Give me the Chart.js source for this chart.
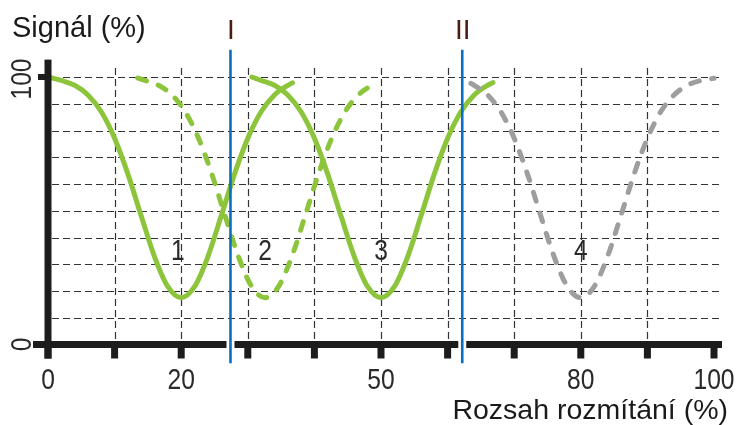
<!DOCTYPE html>
<html><head><meta charset="utf-8">
<script src="https://cdn.jsdelivr.net/npm/chart.js@4"></script>
<style>html,body{margin:0;padding:0;background:#fff}#wrap{width:736px;height:425px;position:relative}</style>
</head><body><div id="wrap"><canvas id="c" width="736" height="425"></canvas></div>
<script>
// ---- data ----
const curve1X = [0, 2, 4, 6, 8, 10, 12, 14, 16, 18, 20, 22, 24, 26, 28, 30, 32, 34, 36, 36.7];
const curve1Y = [100, 98.7, 96.9, 93.3, 87.0, 77.1, 63.7, 48.0, 32.8, 21.6, 17.5, 21.6, 32.8, 48.0, 63.7, 77.1, 87.0, 93.3, 96.9, 97.8];

const curve2X = [13.5, 14.6, 16.6, 18.6, 20.6, 22.6, 24.6, 26.6, 28.6, 30.6, 32.6, 34.6, 36.6, 38.6, 40.6, 42.6, 44.6, 46.6, 48.6, 49.1];
const curve2Y = [99.6, 98.7, 96.9, 93.3, 87.0, 77.1, 63.7, 48.0, 32.8, 21.6, 17.5, 21.6, 32.8, 48.0, 63.7, 77.1, 87.0, 93.3, 96.9, 97.5];

const curve3X = [30.6, 32, 34, 36, 38, 40, 42, 44, 46, 48, 50, 52, 54, 56, 58, 60, 62, 64, 66, 66.8];
const curve3Y = [100, 98.7, 96.9, 93.3, 87.0, 77.1, 63.7, 48.0, 32.8, 21.6, 17.5, 21.6, 32.8, 48.0, 63.7, 77.1, 87.0, 93.3, 96.9, 97.9];

const curve4X = [63.5, 64, 66, 68, 70, 72, 74, 76, 78, 80, 82, 84, 86, 88, 90, 92, 94, 96, 98, 100, 101.2];
const curve4Y = [97.6, 96.9, 93.3, 87.0, 77.1, 63.7, 48.0, 32.8, 21.6, 17.5, 21.6, 32.8, 48.0, 63.7, 77.1, 87.0, 93.3, 96.9, 98.7, 99.5, 99.8];

const xTickValues = [0, 10, 20, 30, 40, 50, 60, 70, 80, 90, 100];
const xLabelValues = [0, 20, 50, 80, 100];
const xLabelTexts = ['0', '20', '50', '80', '100'];
const yLabelValues = [0, 100];
const yLabelTexts = ['0', '100'];
const gridXValues = [10, 20, 30, 40, 50, 60, 70, 80, 90];
const gridYValues = [10, 20, 30, 40, 50, 60, 70, 80, 90, 100];
const markerValues = [27.4, 62.2];
const markerTexts = ['I', 'II'];
const curveNameTexts = ['1', '2', '3', '4'];
const curveNameX = [19.5, 32.6, 50, 80];
const curveNameY = [35.7, 35.7, 35.7, 35.7];
const yTitle = 'Signál (%)';
const xTitle = 'Rozsah rozmítání (%)';

const zip = (xs, ys) => xs.map((v, i) => ({x: v, y: ys[i]}));

const GREEN = '#8cc43c';
const GRAY = '#9e9e9e';
const BLUE = '#0a6fc2';
const AXIS = '#1c1c1c';
const SANS = '"Liberation Sans", Arial, Helvetica, sans-serif';
const NARROW_SCALE = 0.82;

function narrowText(ctx, text, px, py, rot) {
  ctx.save();
  ctx.translate(px, py);
  if (rot) ctx.rotate(rot);
  ctx.scale(NARROW_SCALE, 1);
  ctx.fillText(text, 0, 0);
  ctx.restore();
}

const decor = {
  id: 'decor',
  beforeDatasetsDraw(chart) {
    const {ctx, scales: {x, y}} = chart;
    ctx.save();
    ctx.strokeStyle = '#333333';
    ctx.lineWidth = 1.2;
    ctx.setLineDash([7, 4]);
    gridYValues.forEach(v => {
      const py = Math.round(y.getPixelForValue(v)) + 0.5;
      ctx.beginPath();
      ctx.moveTo(x.getPixelForValue(0) + 4, py);
      ctx.lineTo(x.getPixelForValue(101.2), py);
      ctx.stroke();
    });
    gridXValues.forEach(v => {
      const px = Math.round(x.getPixelForValue(v)) + 0.5;
      ctx.beginPath();
      ctx.moveTo(px, y.getPixelForValue(103.4));
      ctx.lineTo(px, y.getPixelForValue(0));
      ctx.stroke();
    });
    ctx.restore();
  },
  afterDatasetsDraw(chart) {
    const {ctx, scales: {x, y}} = chart;
    ctx.save();
    const y0 = y.getPixelForValue(0);
    const x0 = x.getPixelForValue(0);
    ctx.fillStyle = AXIS;
    const axL = x.getPixelForValue(-2.25), axR = x.getPixelForValue(101.2);
    const gaps = markerValues.map(v => x.getPixelForValue(v));
    let start = axL;
    gaps.forEach(g => { ctx.fillRect(start, y0 - 3.5, (g - 4) - start, 7); start = g + 4; });
    ctx.fillRect(start, y0 - 3.5, axR - start, 7);
    xTickValues.forEach(v => {
      const px = x.getPixelForValue(v);
      ctx.fillRect(px - 3.5, y0, 7, 14);
    });
    ctx.fillRect(x0 - 3.5, y.getPixelForValue(106.5), 7, y0 + 14 - y.getPixelForValue(106.5));
    const y100 = y.getPixelForValue(100);
    ctx.fillRect(x0 - 10, y100 - 3, 10, 6);
    ctx.strokeStyle = BLUE;
    ctx.lineWidth = 2.6;
    markerValues.forEach(v => {
      const px = x.getPixelForValue(v);
      ctx.beginPath();
      ctx.moveTo(px, y.getPixelForValue(110.2));
      ctx.lineTo(px, y.getPixelForValue(-7));
      ctx.stroke();
    });
    ctx.fillStyle = '#4a1e12';
    ctx.font = '28px ' + SANS;
    ctx.textAlign = 'center';
    ctx.textBaseline = 'alphabetic';
    markerValues.forEach((v, i) => ctx.fillText(markerTexts[i], x.getPixelForValue(v) + 0.5, 39));
    ctx.fillStyle = '#1a1a1a';
    ctx.font = '29px ' + SANS;
    ctx.textAlign = 'left';
    ctx.fillText(yTitle, 12, 37);
    ctx.font = '28.5px ' + SANS;
    ctx.textAlign = 'right';
    ctx.fillText(xTitle, 728, 419);
    ctx.fillStyle = '#2a2a2a';
    ctx.font = '30px ' + SANS;
    ctx.textAlign = 'center';
    xLabelValues.forEach((v, i) => narrowText(ctx, xLabelTexts[i], x.getPixelForValue(v), 389));
    curveNameTexts.forEach((t, i) => {
      narrowText(ctx, t, x.getPixelForValue(curveNameX[i]), y.getPixelForValue(curveNameY[i]) + 11);
    });
    ctx.textBaseline = 'middle';
    yLabelValues.forEach((v, i) => {
      narrowText(ctx, yLabelTexts[i], 23, y.getPixelForValue(v) + (v === 100 ? 2 : 0), -Math.PI / 2);
    });
    ctx.restore();
  }
};

const common = {pointRadius: 0, borderWidth: 5, fill: false, clip: false, cubicInterpolationMode: 'monotone', borderCapStyle: 'round', borderJoinStyle: 'round'};

new Chart(document.getElementById('c'), {
  type: 'line',
  data: {
    datasets: [
      Object.assign({label: '4', data: zip(curve4X, curve4Y), borderColor: GRAY, borderDash: [9, 12.5]}, common),
      Object.assign({label: '2', data: zip(curve2X, curve2Y), borderColor: GREEN, borderDash: [9, 12.5]}, common),
      Object.assign({label: '1', data: zip(curve1X, curve1Y), borderColor: GREEN}, common),
      Object.assign({label: '3', data: zip(curve3X, curve3Y), borderColor: GREEN}, common)
    ]
  },
  options: {
    responsive: false,
    animation: false,
    devicePixelRatio: 1,
    layout: {padding: {left: 48, right: 22, top: 77, bottom: 80.5}},
    plugins: {legend: {display: false}, tooltip: {enabled: false}},
    scales: {
      x: {type: 'linear', min: 0, max: 100, display: false},
      y: {type: 'linear', min: 0, max: 100, display: false}
    }
  },
  plugins: [decor]
});
</script>
</body></html>
